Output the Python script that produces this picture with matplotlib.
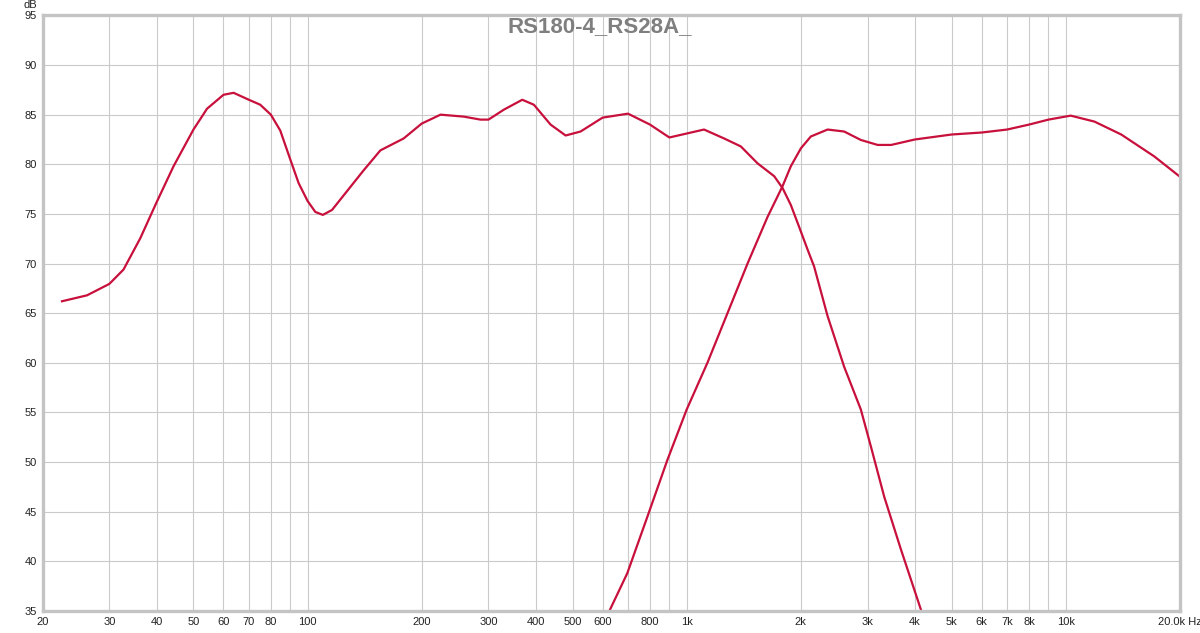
import matplotlib
matplotlib.use("Agg")
import matplotlib.pyplot as plt

plt.rcParams['font.family'] = ['Liberation Sans', 'DejaVu Sans']

# Woofer response (Hz, dB)
woofer_f = [22.5, 26.2, 30, 32.7, 36.2, 40, 44.3, 50, 54.3, 60, 63.8, 70, 75, 80, 84.7,
            90, 94.7, 100, 104.8, 109.7, 116, 127.1, 140.6, 155.6, 179.2, 200, 224.2,
            258.2, 285.8, 300, 329.3, 368.3, 395.2, 437.4, 479.3, 524.8, 600, 700, 800,
            900, 1000, 1111, 1255, 1389, 1537, 1701, 1790, 1882, 1979, 2084, 2168, 2353,
            2602, 2879, 3059, 3319, 3673, 4150]
woofer_db = [66.2, 66.8, 67.95, 69.4, 72.55, 76.2, 79.8, 83.5, 85.6, 87.0, 87.2, 86.5,
             86.0, 85.0, 83.4, 80.5, 78.1, 76.3, 75.2, 74.9, 75.4, 77.3, 79.4, 81.4, 82.6,
             84.1, 85.0, 84.8, 84.5, 84.5, 85.5, 86.5, 86.0, 84.0, 82.9, 83.3, 84.7, 85.1,
             84.0, 82.7, 83.1, 83.5, 82.6, 81.8, 80.1, 78.8, 77.6, 75.9, 73.7, 71.4, 69.7,
             64.7, 59.6, 55.3, 51.6, 46.5, 41.2, 35.1]

# Tweeter response (Hz, dB)
tweeter_f = [627, 697, 787.6, 889, 1000, 1134, 1281, 1447, 1634, 1790, 1882, 2000, 2125,
             2353, 2602, 2879, 3188, 3463, 4000, 5000, 6000, 7000, 8000, 9000, 10300,
             11900, 14000, 17100, 20070]
tweeter_db = [35.1, 38.8, 44.5, 50.2, 55.3, 60.0, 65.0, 70.0, 74.7, 77.8, 79.8, 81.6, 82.8,
              83.5, 83.3, 82.45, 81.95, 81.95, 82.5, 83.0, 83.2, 83.5, 84.0, 84.5, 84.9,
              84.3, 83.0, 80.8, 78.7]

# Axis grid / labels
grid_f = [20, 30, 40, 50, 60, 70, 80, 90, 100, 200, 300, 400, 500, 600, 700, 800, 900,
          1000, 2000, 3000, 4000, 5000, 6000, 7000, 8000, 9000, 10000, 20000]
grid_labels = ["20", "30", "40", "50", "60", "70", "80", "", "100", "200", "300", "400",
               "500", "600", "", "800", "", "1k", "2k", "3k", "4k", "5k", "6k", "7k", "8k",
               "", "10k", "20.0k Hz"]
db_ticks = list(range(35, 96, 5))

title = "RS180-4_RS28A_"
line_color = "#c8103c"
grid_color = "#cacaca"

fig = plt.figure(figsize=(12, 6.33), dpi=100)
ax = fig.add_axes([0.0355, 0.0348, 0.9478, 0.9409])

ax.plot(woofer_f, woofer_db, color=line_color, lw=1.6, solid_joinstyle="round")
ax.plot(tweeter_f, tweeter_db, color=line_color, lw=1.6, solid_joinstyle="round")

ax.set_xscale("log")
ax.set_xlim(20, 20000)
ax.set_ylim(35, 95)
ax.set_xticks(grid_f)
ax.set_xticklabels(grid_labels)
ax.xaxis.set_minor_locator(matplotlib.ticker.NullLocator())
ax.set_yticks(db_ticks)
ax.tick_params(length=0, labelsize=8, colors="#222222", pad=4)
ax.grid(True, color=grid_color, lw=0.8)
ax.set_axisbelow(True)

for s in ax.spines.values():
    s.set_color("#c4c4c4")
    s.set_linewidth(2.4)

fig.text(30 / 1200, 1 - 5 / 633, "dB", ha="center", va="center", fontsize=8, color="#222222")
fig.text(0.5, 1 - 27 / 633, title, ha="center", va="center", fontsize=16,
         fontweight="bold", color="#7f7f7f")

fig.savefig("out.png", dpi=100)
